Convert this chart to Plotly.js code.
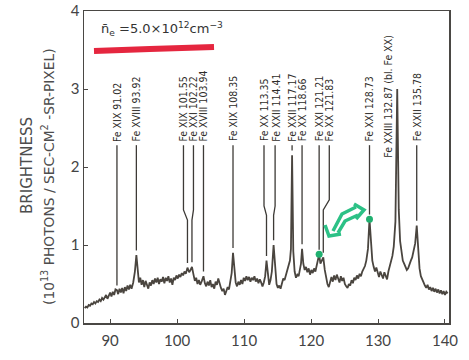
<!DOCTYPE html>
<html>
<head>
<meta charset="utf-8">
<script src="https://cdn.plot.ly/plotly-3.0.1.min.js"></script>
<style>
  html, body { margin: 0; padding: 0; background: #ffffff; }
  #chart { width: 469px; height: 360px; }
</style>
</head>
<body>
<div id="chart"></div>
<script>
// Spectrum: wavelength (Å) and brightness (10^13 photons / sec-cm^2-sr-pixel)
const wavelength = [
  86.2, 86.4, 86.6, 86.8, 87.0, 87.2, 87.4, 87.6, 87.8, 88.0, 88.2, 88.4, 88.6, 88.8, 89.0, 89.2,
  89.4, 89.6, 89.8, 90.0, 90.2, 90.4, 90.6, 90.8, 91.02, 91.2, 91.4, 91.6, 91.8, 92.0, 92.2, 92.4,
  92.6, 92.8, 93.0, 93.2, 93.45, 93.7, 93.92, 94.1, 94.3, 94.5, 94.7, 94.9, 95.1, 95.3, 95.5, 95.7,
  95.9, 96.1, 96.3, 96.5, 96.7, 96.9, 97.1, 97.3, 97.5, 97.7, 97.9, 98.1, 98.3, 98.5, 98.7, 98.9,
  99.1, 99.3, 99.5, 99.7, 99.9, 100.1, 100.3, 100.5, 100.7, 100.9, 101.1, 101.3, 101.55, 101.8,
  102.0, 102.22, 102.45, 102.65, 102.85, 103.05, 103.25, 103.45, 103.7, 103.94, 104.15, 104.35,
  104.55, 104.75, 104.95, 105.15, 105.35, 105.55, 105.75, 105.95, 106.15, 106.35, 106.55, 106.75,
  106.95, 107.15, 107.35, 107.55, 107.75, 107.95, 108.15, 108.35, 108.55, 108.75, 108.95, 109.15,
  109.35, 109.55, 109.75, 109.95, 110.15, 110.35, 110.55, 110.75, 110.95, 111.15, 111.35, 111.55,
  111.75, 111.95, 112.15, 112.35, 112.55, 112.75, 112.95, 113.15, 113.35, 113.55, 113.75, 113.95,
  114.15, 114.41, 114.65, 114.85, 115.05, 115.25, 115.45, 115.65, 115.85, 116.05, 116.25, 116.45,
  116.65, 116.85, 117.0, 117.17, 117.35, 117.55, 117.75, 117.95, 118.15, 118.35, 118.5, 118.66,
  118.85, 119.05, 119.25, 119.45, 119.65, 119.85, 120.05, 120.25, 120.45, 120.65, 120.85, 121.05,
  121.21, 121.4, 121.6, 121.83, 122.05, 122.25, 122.45, 122.65, 122.85, 123.05, 123.25, 123.45,
  123.65, 123.85, 124.05, 124.25, 124.45, 124.65, 124.85, 125.05, 125.25, 125.45, 125.65, 125.85,
  126.05, 126.25, 126.45, 126.65, 126.85, 127.05, 127.25, 127.45, 127.65, 127.85, 128.05, 128.25,
  128.5, 128.73, 128.95, 129.15, 129.35, 129.55, 129.75, 129.95, 130.15, 130.35, 130.55, 130.75,
  130.95, 131.15, 131.35, 131.55, 131.75, 131.95, 132.15, 132.35, 132.6, 132.87, 133.1, 133.3,
  133.5, 133.7, 133.9, 134.1, 134.3, 134.5, 134.7, 134.9, 135.1, 135.3, 135.55, 135.78, 136.0,
  136.2, 136.4, 136.6, 136.8, 137.0, 137.2, 137.4, 137.6, 137.8, 138.0, 138.2, 138.4, 138.6,
  138.8, 139.0, 139.2, 139.4, 139.6, 139.8, 140.0, 140.2, 140.4
];
const brightness = [
  0.19, 0.21, 0.20, 0.23, 0.22, 0.25, 0.24, 0.27, 0.25, 0.28, 0.27, 0.30, 0.28, 0.32, 0.30, 0.33,
  0.36, 0.31, 0.35, 0.39, 0.34, 0.40, 0.36, 0.43, 0.42, 0.37, 0.44, 0.39, 0.45, 0.38, 0.46, 0.41,
  0.48, 0.43, 0.49, 0.44, 0.52, 0.66, 0.87, 0.68, 0.52, 0.58, 0.49, 0.55, 0.46, 0.54, 0.50, 0.44,
  0.52, 0.48, 0.55, 0.50, 0.57, 0.52, 0.58, 0.50, 0.56, 0.53, 0.59, 0.51, 0.58, 0.54, 0.60, 0.52,
  0.57, 0.49, 0.58, 0.55, 0.61, 0.57, 0.62, 0.59, 0.64, 0.61, 0.66, 0.63, 0.71, 0.65,
  0.68, 0.72, 0.62, 0.54, 0.58, 0.50, 0.55, 0.49, 0.54, 0.60, 0.51, 0.47,
  0.53, 0.48, 0.55, 0.46, 0.50, 0.44, 0.53, 0.49, 0.57, 0.50, 0.45, 0.41,
  0.44, 0.36, 0.40, 0.46, 0.43, 0.52, 0.64, 0.90, 0.68, 0.52, 0.47, 0.53,
  0.49, 0.55, 0.50, 0.58, 0.54, 0.60, 0.55, 0.59, 0.53, 0.58, 0.55, 0.60,
  0.53, 0.57, 0.51, 0.56, 0.52, 0.47, 0.52, 0.60, 0.80, 0.60, 0.49, 0.55,
  0.66, 1.00, 0.66, 0.50, 0.45, 0.48, 0.44, 0.53, 0.57, 0.55, 0.62, 0.66,
  0.72, 0.80, 0.95, 2.15, 0.92, 0.66, 0.58, 0.62, 0.60, 0.68, 0.76, 0.95,
  0.76, 0.68, 0.72, 0.65, 0.70, 0.62, 0.68, 0.64, 0.70, 0.66, 0.74, 0.78,
  0.88, 0.76, 0.80, 0.84, 0.68, 0.58, 0.50, 0.46, 0.54, 0.59, 0.53, 0.61,
  0.55, 0.62, 0.57, 0.52, 0.60, 0.54, 0.58, 0.50, 0.47, 0.45, 0.50, 0.48,
  0.55, 0.51, 0.58, 0.55, 0.61, 0.57, 0.63, 0.60, 0.66, 0.70, 0.73, 0.80,
  0.95, 1.33, 1.00, 0.80, 0.72, 0.66, 0.71, 0.64, 0.59, 0.66, 0.61, 0.57,
  0.65, 0.60, 0.56, 0.66, 0.72, 0.78, 0.86, 0.98, 1.30, 3.00, 1.45, 1.05,
  0.88, 0.80, 0.76, 0.72, 0.68, 0.70, 0.76, 0.80, 0.84, 0.92, 1.02, 1.25, 0.95,
  0.70, 0.60, 0.55, 0.52, 0.48, 0.45, 0.49, 0.43, 0.46, 0.41, 0.45, 0.40, 0.44,
  0.39, 0.43, 0.38, 0.42, 0.37, 0.41, 0.36, 0.40, 0.38
];

// Identified emission lines
const lineWavelengths = [91.02, 93.92, 101.55, 102.22, 103.94, 108.35, 113.35, 114.41,
                         117.17, 118.66, 121.21, 121.83, 128.73, 132.87, 135.78];
const lineLabels = [
  'Fe XIX 91.02', 'Fe XVIII 93.92', 'Fe XIX 101.55', 'Fe XXI 102.22', 'Fe XVIII 103.94',
  'Fe XIX 108.35', 'Fe XX 113.35', 'Fe XXII 114.41', 'Fe XXII 117.17', 'Fe XX 118.66',
  'Fe XXI 121.21', 'Fe XX 121.83', 'Fe XXI 128.73', 'Fe XXIII 132.87 (bl. Fe XX)', 'Fe XXII 135.78'
];
const markedLines = [121.21, 128.73];

const xTicks = [90, 100, 110, 120, 130, 140];
const yTicks = [0, 1, 2, 3, 4];

// ---- layout helpers ----
const W = 469, H = 360;
const M = { l: 84, r: 20, t: 11, b: 37 };
const plotW = W - M.l - M.r, plotH = H - M.t - M.b;
const xRange = [86.1, 140.6];
const pxPerUnit = plotW / (xRange[1] - xRange[0]);
const px = x => (x - M.l) / plotW;       // pixel -> paper x
const py = y => (H - M.b - y) / plotH;   // pixel -> paper y

function valueAt(w) {
  for (let i = 0; i < wavelength.length - 1; i++) {
    if (w >= wavelength[i] && w <= wavelength[i + 1]) {
      const t = (w - wavelength[i]) / (wavelength[i + 1] - wavelength[i]);
      return brightness[i] + t * (brightness[i + 1] - brightness[i]);
    }
  }
  return brightness[brightness.length - 1];
}

// label text offsets (px) so crowded labels do not collide, and leader bends
const textShift = { 101.55: -4, 102.22: 1.5, 113.35: -2.5, 114.41: 1.5, 121.83: 6, 132.87: -9 };
const bendLevel = { 101.55: [1.45, 1.32], 102.22: [1.45, 1.32], 113.35: [1.5, 1.38],
                    114.41: [1.5, 1.38], 121.83: [1.58, 1.45] };
const labelBase = 2.30, leaderTop = 2.28, leaderGap = 0.06;
const inkText = '#2f2d2a';

const lx = [], ly = [];
const annotations = [];
lineWavelengths.forEach((w, i) => {
  const ds = (textShift[w] || 0) / pxPerUnit;
  const peak = valueAt(w);
  const isBlend = w === 132.87;
  annotations.push({
    x: w + ds, y: isBlend ? 2.09 : labelBase, xref: 'x', yref: 'y',
    text: lineLabels[i], textangle: -90, showarrow: false,
    xanchor: 'center', yanchor: 'bottom',
    font: { family: 'DejaVu Sans Condensed, DejaVu Sans', size: 10.5, color: inkText }
  });
  const bottom = peak + leaderGap;
  if (bottom < leaderTop && !isBlend) {
    if (bendLevel[w]) {
      lx.push(w + ds, w + ds, w, w, null);
      ly.push(leaderTop, bendLevel[w][0], bendLevel[w][1], bottom, null);
    } else {
      lx.push(w, w, null);
      ly.push(leaderTop, bottom, null);
    }
  }
});

const traces = [
  {
    x: lx, y: ly, mode: 'lines', type: 'scatter', hoverinfo: 'skip',
    line: { color: '#3d3a36', width: 1.3 }, connectgaps: false
  },
  {
    x: wavelength, y: brightness, mode: 'lines', type: 'scatter',
    line: { color: '#4a453f', width: 1.8 }
  },
  {
    x: markedLines, y: markedLines.map(valueAt), mode: 'markers', type: 'scatter',
    marker: { color: '#20b070', size: 7 }
  }
];

// axis titles and density note
annotations.push(
  { xref: 'paper', yref: 'paper', x: px(27), y: py(166), text: 'BRIGHTNESS',
    textangle: -90, showarrow: false, xanchor: 'center', yanchor: 'middle',
    font: { family: 'DejaVu Sans', size: 15, color: '#4d4d4d' } },
  { xref: 'paper', yref: 'paper', x: px(48), y: py(177),
    text: '(10<sup>13</sup> PHOTONS / SEC-CM<sup>2</sup> -SR-PIXEL)',
    textangle: -90, showarrow: false, xanchor: 'center', yanchor: 'middle',
    font: { family: 'DejaVu Sans', size: 13.8, color: '#4d4d4d' } },
  { xref: 'paper', yref: 'paper', x: px(99), y: py(29),
    text: 'n\u0304<sub>e</sub> =5.0\u00d710<sup>12</sup>cm<sup>\u22123</sup>',
    showarrow: false, xanchor: 'left', yanchor: 'middle',
    font: { family: 'DejaVu Sans', size: 13, color: '#333333' } }
);

const pathFromPx = pts => pts.map((p, i) => (i ? 'L' : 'M') + px(p[0]).toFixed(4) + ',' + py(p[1]).toFixed(4)).join(' ');
const pen = { color: '#2cc186', width: 3.5 };

const shapes = [
  // red marker stroke under the density note
  { type: 'path', xref: 'paper', yref: 'paper',
    path: pathFromPx([[94, 51], [150, 49], [214, 47]]),
    line: { color: '#e5263f', width: 6 } },
  // green pen arrow between the marked lines
  { type: 'path', xref: 'paper', yref: 'paper', line: pen,
    path: pathFromPx([[333, 231], [342, 214], [356, 207]]) },
  { type: 'path', xref: 'paper', yref: 'paper', line: pen,
    path: pathFromPx([[338, 233], [345, 221], [358, 215]]) },
  { type: 'path', xref: 'paper', yref: 'paper', line: pen,
    path: pathFromPx([[354, 204], [364, 210], [356, 219]]) },
  { type: 'path', xref: 'paper', yref: 'paper', line: pen,
    path: pathFromPx([[325, 225], [329, 236], [341, 234]]) }
];

const axisCommon = {
  showline: true, mirror: true, linecolor: '#4a4744', linewidth: 1.5,
  ticks: 'inside', ticklen: 4, tickwidth: 1, tickcolor: '#4a4744',
  showgrid: false, zeroline: false,
  tickfont: { family: 'Lato, DejaVu Sans', size: 15, color: '#444444' }
};

const layout = {
  width: W, height: H, margin: M,
  paper_bgcolor: '#ffffff', plot_bgcolor: '#ffffff',
  showlegend: false,
  xaxis: Object.assign({}, axisCommon, { range: xRange, tickvals: xTicks, ticktext: xTicks.map(String), ticklabelstandoff: 3 }),
  yaxis: Object.assign({}, axisCommon, { range: [0, 4], tickvals: yTicks, ticktext: yTicks.map(String) }),
  annotations: annotations,
  shapes: shapes
};

Plotly.newPlot('chart', traces, layout, { displayModeBar: false, staticPlot: true });
</script>
</body>
</html>
